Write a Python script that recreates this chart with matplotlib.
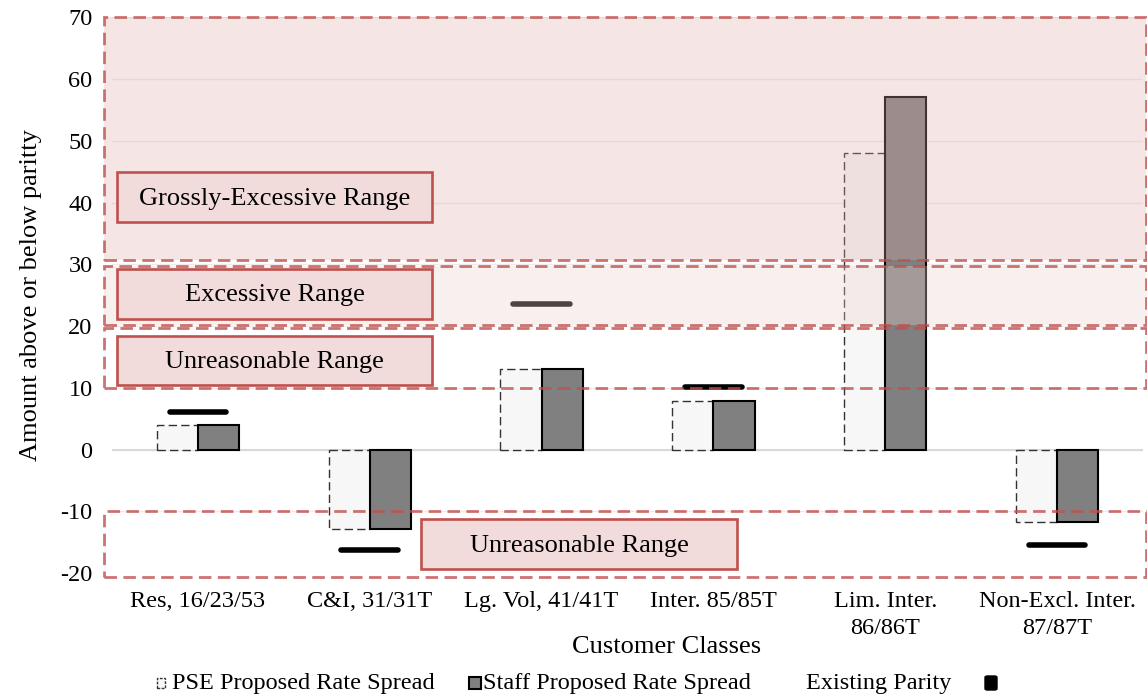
import numpy as np
import matplotlib
matplotlib.use("Agg")
import matplotlib.pyplot as plt
from matplotlib.patches import Rectangle, FancyBboxPatch

plt.rcParams['font.family'] = ['Liberation Serif', 'DejaVu Serif']
plt.rcParams['axes.unicode_minus'] = False

# data
categories = ["Res, 16/23/53", "C&I, 31/31T", "Lg. Vol, 41/41T", "Inter. 85/85T",
              "Lim. Inter.\n86/86T", "Non-Excl. Inter.\n87/87T"]
pse_spread = [3.9, -12.8, 13.1, 7.8, 48.1, -11.8]
staff_spread = [3.9, -12.8, 13.1, 7.8, 57.1, -11.8]
existing_parity = [6.1, -16.3, 23.5, 10.2, np.nan, -15.5]

# shaded ranges (lower, upper) and their labels
band_lo = [30.7, 20.1, 9.9, -20.7]
band_hi = [70.0, 29.8, 19.6, -9.9]
band_fill = [("#deabab", 0.3), ("#ecd1d1", 0.33), (None, 0), (None, 0)]
range_labels = ["Grossly-Excessive Range", "Excessive Range", "Unreasonable Range", "Unreasonable Range"]
label_box_x = [(-0.472, 1.364), (-0.472, 1.364), (-0.472, 1.364), (1.30, 3.14)]
label_box_y = [(36.9, 45.0), (21.2, 29.3), (10.5, 18.4), (-19.3, -11.3)]

W, H = 1147, 698
fig = plt.figure(figsize=(W / 100, H / 100), dpi=100)
ax = fig.add_axes([112 / W, 1 - 573 / H, 1031 / W, (573 - 17.3) / H])

x = np.arange(len(categories))
bw = 0.24

ax.bar(x - bw / 2, pse_spread, bw, color="#f7f7f7", edgecolor="#333333",
       linewidth=1.0, linestyle=(0, (6, 3)), zorder=3)
ax.bar(x + bw / 2, staff_spread, bw, color="#808080", edgecolor="black",
       linewidth=1.5, zorder=3)
ax.hlines(existing_parity, x - 0.165, x + 0.165, color="black", linewidth=4,
          capstyle="round", zorder=2.5)

ax.axhline(0, color="#d9d9d9", linewidth=1.5, zorder=1)

# range bands
tr = ax.get_yaxis_transform()
for lo, hi, (fc, a) in zip(band_lo, band_hi, band_fill):
    if fc is not None:
        ax.add_patch(Rectangle((-0.008, lo), 1.011, hi - lo, transform=tr,
                               facecolor=fc, alpha=a, edgecolor="none",
                               zorder=4, clip_on=False))
    ax.add_patch(Rectangle((-0.008, lo), 1.011, hi - lo, transform=tr,
                           facecolor="none", edgecolor="#c0504d", alpha=0.8,
                           linewidth=2.0, linestyle=(0, (4.5, 2.3)),
                           zorder=5, clip_on=False))

# range label boxes
for lab, (x0, x1), (y0, y1) in zip(range_labels, label_box_x, label_box_y):
    ax.add_patch(Rectangle((x0, y0), x1 - x0, y1 - y0, facecolor="#f2dcdb",
                           edgecolor="#c0504d", linewidth=1.9, zorder=6,
                           clip_on=False))
    ax.text((x0 + x1) / 2, (y0 + y1) / 2 - 0.3, lab, ha="center", va="center",
            fontsize=19, zorder=7)

ax.set_xlim(-0.5, 5.5)
ax.set_ylim(-20, 70)
ax.set_yticks(np.arange(-20, 71, 10))
ax.set_xticks(x)
ax.set_xticklabels(categories)
for lbl in ax.get_xticklabels():
    lbl.set_linespacing(1.4)
ax.tick_params(axis="y", length=0, labelsize=17.5, pad=14)
ax.tick_params(axis="x", length=0, labelsize=17.5, pad=13)
ax.yaxis.grid(True, color="#ebebeb", linewidth=1)
ax.set_axisbelow(True)
for s in ax.spines.values():
    s.set_visible(False)

ax.set_ylabel("Amount above or below paritty", fontsize=19, labelpad=13)
fig.text(667 / W, 1 - 647 / H, "Customer Classes", ha="center", va="center", fontsize=19)

# legend drawn by hand
def fx(px):
    return px / W

def fy(py):
    return 1 - py / H

fig.patches.append(Rectangle((fx(157), fy(688)), 8 / W, 10 / H, transform=fig.transFigure,
                             facecolor="#f7f7f7", edgecolor="#333333", linewidth=1,
                             linestyle=(0, (2, 1))))
fig.text(fx(172), fy(683), "PSE Proposed Rate Spread", ha="left", va="center", fontsize=17.5)
fig.patches.append(Rectangle((fx(469), fy(689)), 12 / W, 12 / H, transform=fig.transFigure,
                             facecolor="#808080", edgecolor="black", linewidth=1.5))
fig.text(fx(483), fy(683), "Staff Proposed Rate Spread", ha="left", va="center", fontsize=17.5)
fig.text(fx(806), fy(683), "Existing Parity", ha="left", va="center", fontsize=17.5)
fig.patches.append(FancyBboxPatch((fx(985), fy(690)), 12 / W, 14 / H, transform=fig.transFigure,
                                  boxstyle="round,pad=0,rounding_size=0.002",
                                  facecolor="black", edgecolor="black", linewidth=1))

fig.savefig("out.png", dpi=100)
